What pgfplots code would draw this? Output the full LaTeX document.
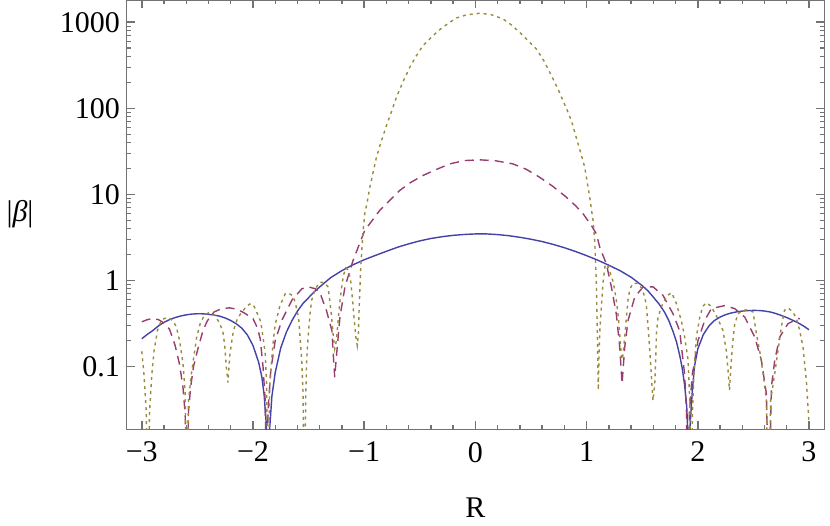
\documentclass[border=0pt]{standalone}
\usepackage{fontspec}
\setmainfont{Liberation Serif}
\usepackage{pgfplots}
\pgfplotsset{compat=1.18}
\definecolor{mblue}{rgb}{0.26,0.26,0.66}
\definecolor{mpurple}{rgb}{0.6,0.24,0.4428}
\definecolor{molive}{rgb}{0.6,0.547,0.24}
\definecolor{framegray}{rgb}{0.45,0.45,0.45}
\begin{document}
\begin{tikzpicture}
\useasboundingbox (-63.5pt,-48pt) rectangle (351.5pt,214.5pt);
\begin{axis}[
  scale only axis,
  width=348.5pt, height=214.5pt,
  xmin=-3.133, xmax=3.135,
  ymode=log, ymin=0.01875, ymax=1816,
  xtick={-3,-2,-1,0,1,2,3},
  xticklabels={−3,−2,−1,0,1,2,3},
  minor x tick num=4,
  ytick={0.1,1,10,100,1000},
  yticklabels={0.1,1,10,100,1000},
  tick align=inside,
  major tick length=4pt, minor tick length=2.2pt,
  axis line style={framegray, line width=0.5pt},
  major tick style={framegray, solid, line width=0.8pt},
  minor tick style={framegray, solid, line width=0.7pt},
  ticklabel style={font=\fontsize{15}{18}\selectfont, black},
  xticklabel shift=3pt,
  xlabel={R},
  ylabel={|\textit{β}|},
  xlabel style={at={(axis description cs:0.5,-0.1841)}, anchor=center, font=\fontsize{15}{18}\selectfont},
  ylabel style={at={(axis description cs:-0.1535,0.5)}, anchor=center, rotate=-90, font=\fontsize{15}{18}\selectfont},
]
% blue solid
\addplot[mblue, line width=0.7pt] coordinates {
(-3.00,0.210) (-2.95,0.236) (-2.90,0.262) (-2.85,0.296) (-2.80,0.326) (-2.75,0.350) (-2.70,0.370) (-2.65,0.386) (-2.60,0.398) (-2.55,0.406) (-2.50,0.410)
(-2.45,0.409) (-2.40,0.404) (-2.35,0.396) (-2.30,0.384) (-2.25,0.366) (-2.20,0.342) (-2.15,0.313) (-2.10,0.278) (-2.05,0.232) (-2.00,0.175) (-1.95,0.113)
(-1.92,0.075) (-1.90,0.047) (-1.88,0.021) (-1.865,0.002) (-1.85,0.019) (-1.83,0.045)
(-1.80,0.085) (-1.75,0.165) (-1.70,0.25) (-1.65,0.34) (-1.60,0.44) (-1.55,0.54) (-1.50,0.63) (-1.45,0.735) (-1.40,0.84)
(-1.30,1.08) (-1.20,1.30) (-1.10,1.52) (-1.00,1.74) (-0.90,1.95) (-0.80,2.18)
(-0.70,2.43) (-0.60,2.66) (-0.50,2.88) (-0.40,3.07) (-0.30,3.22) (-0.20,3.34)
(-0.10,3.42) (0.00,3.47) (0.05,3.48) (0.10,3.47) (0.20,3.41) (0.30,3.31)
(0.40,3.17) (0.50,3.01) (0.60,2.83) (0.70,2.62) (0.80,2.40) (0.90,2.17)
(1.00,1.94) (1.10,1.72) (1.20,1.50) (1.30,1.30) (1.40,1.09) (1.50,0.87)
(1.55,0.76) (1.60,0.64) (1.65,0.535) (1.70,0.43) (1.74,0.34) (1.78,0.25) (1.81,0.19) (1.84,0.13) (1.86,0.095) (1.88,0.063) (1.90,0.035)
(1.91,0.018) (1.918,0.002) (1.93,0.02) (1.95,0.05) (1.97,0.10) (2.00,0.16)
(2.05,0.235) (2.10,0.295) (2.15,0.342) (2.20,0.375) (2.25,0.40) (2.30,0.418) (2.35,0.431) (2.40,0.440) (2.45,0.446)
(2.50,0.448) (2.55,0.447) (2.60,0.441) (2.65,0.430) (2.70,0.413) (2.75,0.392) (2.80,0.370) (2.85,0.346) (2.90,0.322) (2.95,0.296) (3.00,0.267)
};
% purple dashed
\addplot[mpurple, line width=0.7pt, dash pattern=on 4.5pt off 3pt] coordinates {
(-3.00,0.330) (-2.95,0.350) (-2.90,0.360) (-2.85,0.350) (-2.80,0.320) (-2.75,0.270)
(-2.70,0.175) (-2.66,0.105) (-2.63,0.058) (-2.61,0.028) (-2.595,0.002) (-2.58,0.030)
(-2.56,0.058) (-2.535,0.10) (-2.49,0.17) (-2.45,0.26) (-2.41,0.34) (-2.35,0.43)
(-2.28,0.47) (-2.21,0.48) (-2.14,0.46) (-2.08,0.42) (-2.00,0.36) (-1.96,0.28)
(-1.935,0.21) (-1.91,0.10) (-1.89,0.04) (-1.877,0.002) (-1.865,0.03) (-1.84,0.09)
(-1.80,0.20) (-1.74,0.345) (-1.65,0.59) (-1.56,0.80) (-1.50,0.84) (-1.44,0.80)
(-1.40,0.73) (-1.34,0.45) (-1.29,0.26) (-1.28,0.15) (-1.265,0.075) (-1.25,0.13)
(-1.218,0.375) (-1.173,0.84) (-1.10,1.71) (-0.995,3.81) (-0.861,6.5) (-0.681,11.1)
(-0.58,13.8) (-0.471,16.6) (-0.35,19.5) (-0.231,22.6) (-0.10,24.7) (0.039,25.2)
(0.18,24.6) (0.338,22.6) (0.46,19.5) (0.578,15.8) (0.70,12.3) (0.818,9.27)
(0.90,7.4) (0.968,5.96) (1.043,4.35) (1.088,3.48) (1.118,2.44) (1.178,1.55)
(1.223,0.84) (1.268,0.40) (1.298,0.168) (1.319,0.063) (1.343,0.168) (1.373,0.343)
(1.433,0.64) (1.508,0.84) (1.598,0.84) (1.687,0.67) (1.777,0.41) (1.837,0.26)
(1.882,0.08) (1.898,0.03) (1.91,0.002) (1.925,0.03) (1.95,0.08) (2.002,0.20)
(2.062,0.343) (2.122,0.47) (2.242,0.51) (2.332,0.47) (2.422,0.375) (2.512,0.22)
(2.572,0.118) (2.617,0.048) (2.64,0.002) (2.662,0.058) (2.692,0.118) (2.737,0.22)
(2.811,0.314) (2.901,0.359) (2.917,0.36)
};
% olive dotted
\addplot[molive, line width=0.7pt, dash pattern=on 1.5pt off 2pt] coordinates {
(-3.00,0.15) (-2.98,0.08) (-2.96,0.03) (-2.945,0.002) (-2.93,0.03) (-2.91,0.08)
(-2.89,0.15) (-2.86,0.26) (-2.83,0.33) (-2.80,0.36) (-2.76,0.37) (-2.72,0.34)
(-2.69,0.29) (-2.66,0.20) (-2.63,0.11) (-2.61,0.05) (-2.595,0.002) (-2.58,0.04)
(-2.555,0.08) (-2.536,0.12) (-2.506,0.22) (-2.476,0.31) (-2.44,0.39) (-2.40,0.42)
(-2.35,0.40) (-2.30,0.32) (-2.27,0.25) (-2.255,0.18) (-2.24,0.10) (-2.225,0.065)
(-2.21,0.13) (-2.19,0.20) (-2.176,0.26) (-2.14,0.36) (-2.10,0.43) (-2.05,0.51)
(-2.02,0.54) (-1.99,0.50) (-1.967,0.43) (-1.93,0.33) (-1.91,0.22) (-1.89,0.14)
(-1.877,0.06) (-1.865,0.002) (-1.85,0.06) (-1.832,0.12) (-1.817,0.20) (-1.80,0.31)
(-1.757,0.51) (-1.71,0.70) (-1.68,0.71) (-1.64,0.66) (-1.62,0.55) (-1.59,0.37)
(-1.577,0.22) (-1.562,0.12) (-1.55,0.05) (-1.538,0.002) (-1.525,0.05) (-1.517,0.12)
(-1.502,0.24) (-1.487,0.41) (-1.472,0.59) (-1.44,0.80) (-1.40,0.95) (-1.36,0.95)
(-1.325,0.84) (-1.31,0.59) (-1.295,0.40) (-1.28,0.24) (-1.265,0.16) (-1.25,0.20)
(-1.232,0.37) (-1.217,0.59) (-1.202,0.84) (-1.187,1.14) (-1.165,1.40) (-1.14,1.30)
(-1.12,0.95) (-1.105,0.60) (-1.09,0.35) (-1.075,0.22) (-1.062,0.175) (-1.052,0.24)
(-1.046,0.45) (-1.037,0.91) (-1.03,1.5) (-1.02,2.4) (-1.011,3.6) (-0.995,5.96)
(-0.97,8.5) (-0.95,12.0) (-0.92,18) (-0.89,26.9) (-0.85,40) (-0.80,63)
(-0.75,95) (-0.71,135) (-0.65,205) (-0.59,300) (-0.53,410) (-0.471,537)
(-0.40,660) (-0.336,794) (-0.25,960) (-0.171,1122) (-0.08,1220) (0.039,1274)
(0.14,1230) (0.248,1096) (0.32,940) (0.398,766) (0.47,620) (0.548,490)
(0.62,350) (0.698,220) (0.745,165) (0.788,123) (0.83,92) (0.863,72)
(0.895,52) (0.923,38.7) (0.955,28) (0.983,20.7) (1.005,14) (1.028,9.27)
(1.045,6.5) (1.058,4.98) (1.073,2.92) (1.088,0.91) (1.098,0.2) (1.105,0.053)
(1.113,0.15) (1.12,0.28) (1.133,0.49) (1.148,0.95) (1.165,1.45) (1.185,1.55)
(1.21,1.25) (1.24,0.95) (1.265,0.62) (1.285,0.38) (1.30,0.22) (1.315,0.12)
(1.325,0.13) (1.343,0.22) (1.358,0.37) (1.373,0.60) (1.39,0.80) (1.42,0.93)
(1.46,0.92) (1.50,0.80) (1.525,0.62) (1.538,0.50) (1.553,0.29) (1.568,0.155)
(1.583,0.076) (1.597,0.04) (1.613,0.063) (1.622,0.13) (1.628,0.24) (1.642,0.37)
(1.672,0.49) (1.72,0.66) (1.765,0.72) (1.807,0.54) (1.852,0.34) (1.882,0.22)
(1.912,0.12) (1.928,0.04) (1.94,0.002) (1.952,0.03) (1.965,0.08) (1.987,0.22)
(2.017,0.37) (2.045,0.50) (2.077,0.55) (2.12,0.50) (2.18,0.36) (2.227,0.26)
(2.257,0.15) (2.272,0.09) (2.285,0.053) (2.30,0.11) (2.316,0.20) (2.332,0.31)
(2.362,0.41) (2.407,0.45) (2.45,0.455) (2.497,0.43) (2.527,0.24) (2.557,0.15)
(2.587,0.083) (2.617,0.04) (2.635,0.002) (2.655,0.04) (2.692,0.083) (2.722,0.155)
(2.752,0.29) (2.78,0.45) (2.81,0.48) (2.856,0.43) (2.89,0.35) (2.917,0.26)
(2.946,0.168) (2.976,0.069) (3.00,0.022)
};
\end{axis}
\end{tikzpicture}
\end{document}
